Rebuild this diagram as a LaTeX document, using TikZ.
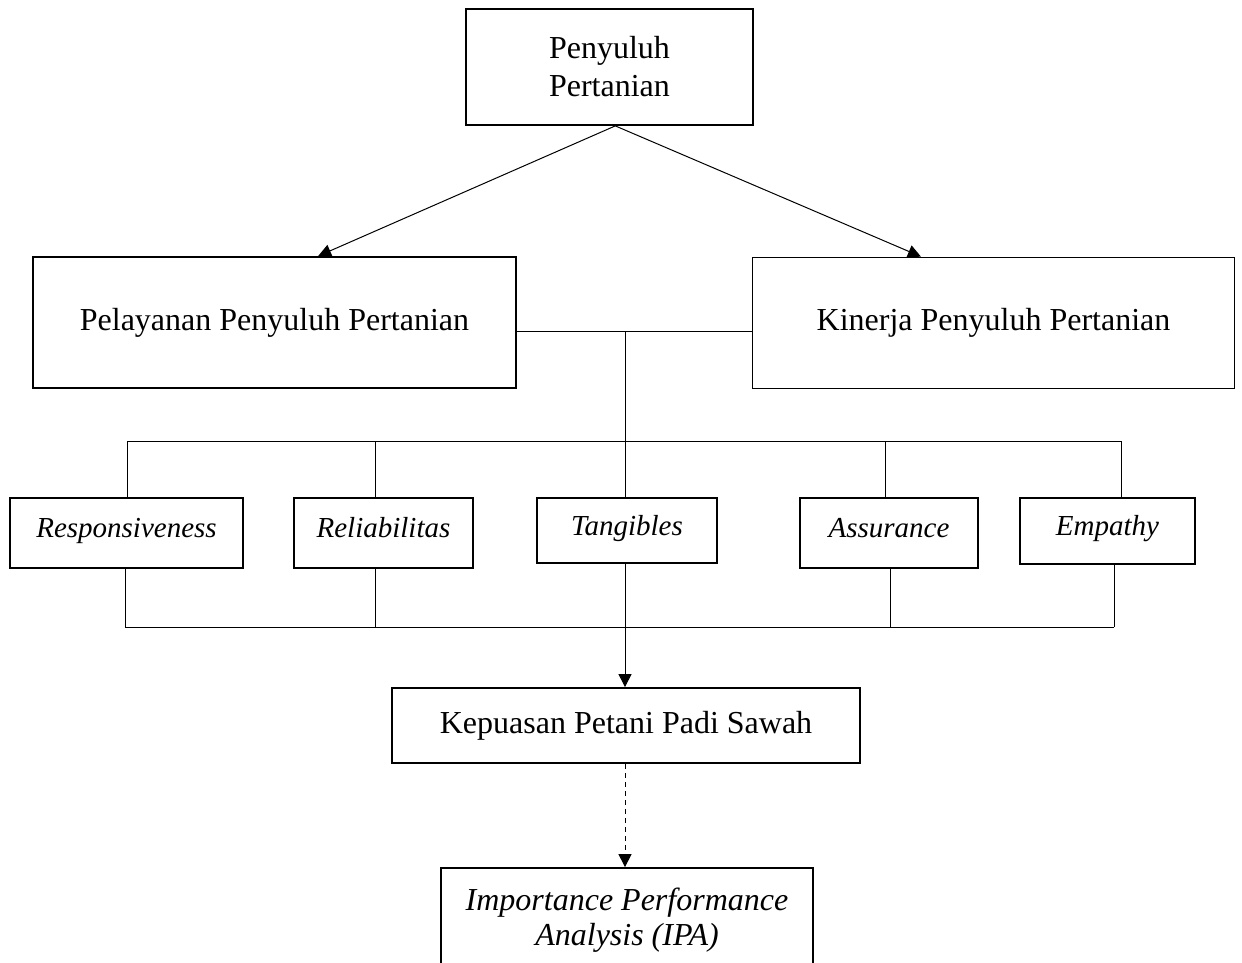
\documentclass[tikz,border=0pt]{standalone}
\usepackage{fontspec}
\setmainfont{Liberation Serif}
\usetikzlibrary{arrows.meta,calc}

\begin{document}
\begin{tikzpicture}[x=0.5pt,y=0.5pt,yscale=-1,xscale=1,
    box/.style={draw,line width=0.9pt,inner sep=0pt,align=center,font=\fontsize{16}{19}\selectfont},
    dimbox/.style={box,text height=9.5pt,text depth=5pt,font=\fontsize{14.5}{17}\selectfont\itshape},
    link/.style={line width=0.5pt},
    arr/.style={link,-{Triangle[length=6.5pt,width=6.5pt]}}]
    \useasboundingbox (0,0) rectangle (1242,963);
    \clip (0,0) rectangle (1242,963);

%Box top
    \node [box,minimum width=143.5pt,minimum height=58pt] (top) at (609.5,67) {Penyuluh\\Pertanian};
%Box left and right
    \node [box,minimum width=241.5pt,minimum height=65.5pt] (pelayanan) at (274.5,322.5) {Pelayanan Penyuluh Pertanian};
    \node [box,minimum width=241pt,minimum height=65.5pt] (kinerja) at (993.5,323) {Kinerja Penyuluh Pertanian};
%Dimension boxes
    \node [dimbox,minimum width=116.5pt,minimum height=35pt] (resp) at (126.5,533) {Responsiveness};
    \node [dimbox,minimum width=89.5pt,minimum height=35pt] (reli) at (383.5,533) {Reliabilitas};
    \node [dimbox,minimum width=90pt,minimum height=32.5pt] (tang) at (627,530.5) {Tangibles};
    \node [dimbox,minimum width=89pt,minimum height=35pt] (assur) at (889,533) {Assurance};
    \node [dimbox,minimum width=87.5pt,minimum height=33pt] (emp) at (1107.5,531) {Empathy};
%Box bottom
    \node [box,minimum width=234pt,minimum height=37.5pt] (kepuasan) at (626,725.5) {Kepuasan Petani Padi Sawah};
    \node [box,minimum width=186pt,minimum height=52pt,font=\fontsize{16}{17.5}\selectfont\itshape] (ipa) at (627,920) {Importance Performance\\Analysis (IPA)};

%Arrows from top
    \coordinate (apex) at ($(top.south west)!0.52!(top.south east)$);
    \draw [arr] (apex) -- ($(pelayanan.north west)!0.59!(pelayanan.north east)$);
    \draw [arr] (apex) -- ($(kinerja.north west)!0.35!(kinerja.north east)$);
%Middle link
    \coordinate (mid) at (625,331);
    \coordinate (busT) at (625,441);
    \draw [link] (pelayanan.east |- mid) -- (kinerja.west |- mid);
    \draw [link] (mid) -- (busT);
%Upper bus
    \coordinate (tResp) at (127,441);
    \coordinate (tReli) at (375,441);
    \coordinate (tAssur) at (885,441);
    \coordinate (tEmp) at (1121,441);
    \draw [link] (tResp) -- (tEmp);
    \draw [link] (tResp) -- (tResp |- resp.north);
    \draw [link] (tReli) -- (tReli |- reli.north);
    \draw [link] (busT) -- (busT |- tang.north);
    \draw [link] (tAssur) -- (tAssur |- assur.north);
    \draw [link] (tEmp) -- (tEmp |- emp.north);
%Lower bus
    \coordinate (bResp) at (125,627);
    \coordinate (bReli) at (375,627);
    \coordinate (bAssur) at (890,627);
    \coordinate (bEmp) at (1114,627);
    \draw [link] (bResp) -- (bEmp);
    \draw [link] (bResp |- resp.south) -- (bResp);
    \draw [link] (bReli |- reli.south) -- (bReli);
    \draw [link] (bAssur |- assur.south) -- (bAssur);
    \draw [link] (bEmp |- emp.south) -- (bEmp);
%Arrows down
    \draw [arr] (tang.south -| mid) -- (kepuasan.north -| mid);
    \draw [arr,dash pattern=on 2.5pt off 2pt] (kepuasan.south -| mid) -- (ipa.north -| mid);

\end{tikzpicture}
\end{document}
